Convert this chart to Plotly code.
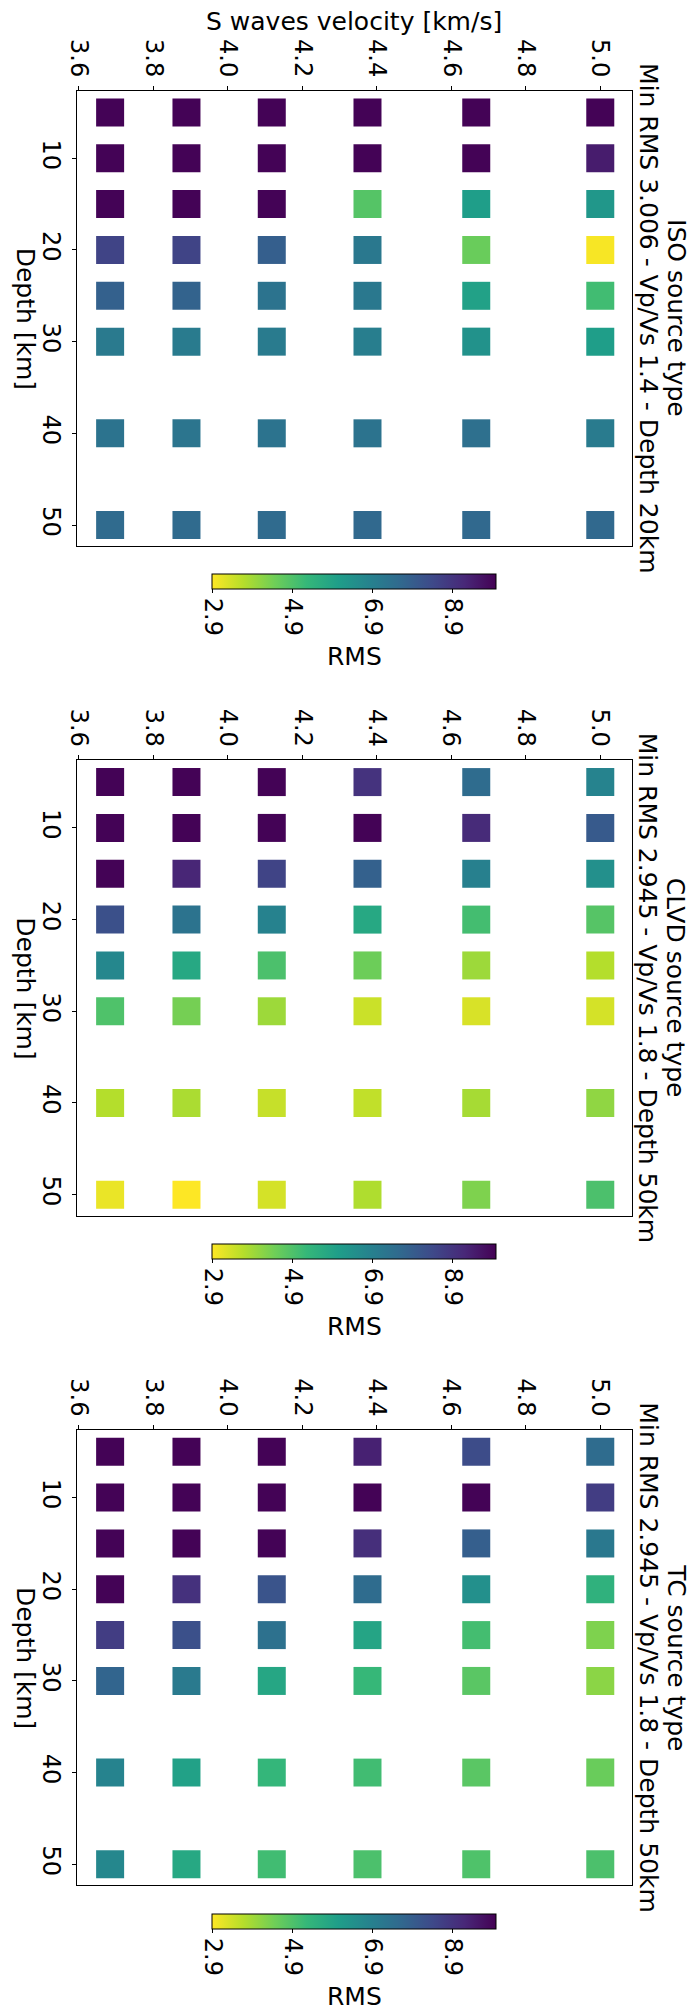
import plotly.graph_objects as go

# S-wave velocity of each column (Vp = 7 km/s, Vp/Vs 1.9 ... 1.4)
velocidades = [3.684, 3.889, 4.118, 4.375, 4.667, 5.0]
profundidades = [5, 10, 15, 20, 25, 30, 40, 50]

# RMS per depth row (rows) and velocity column (cols)
rms_iso = [
    [10.0, 10.0, 10.0, 10.0, 10.0, 10.0],
    [10.0, 10.0, 10.0, 10.0, 10.0, 9.5],
    [10.0, 10.0, 10.0, 4.87, 6.1, 6.3],
    [8.6, 8.6, 7.9, 7.2, 4.6, 3.006],
    [7.85, 7.8, 7.35, 7.2, 6.0, 5.15],
    [7.15, 7.1, 7.1, 7.0, 6.45, 6.1],
    [7.35, 7.3, 7.35, 7.35, 7.45, 7.1],
    [7.6, 7.6, 7.6, 7.65, 7.65, 7.65],
]
rms_clvd = [
    [10.0, 10.0, 10.0, 9.0, 7.55, 6.85],
    [10.0, 10.0, 10.0, 10.0, 9.2, 8.05],
    [10.0, 9.3, 8.6, 7.85, 6.95, 6.5],
    [8.3, 7.35, 6.9, 5.8, 5.1, 4.85],
    [6.75, 5.8, 5.0, 4.55, 4.0, 3.75],
    [4.95, 4.45, 4.0, 3.5, 3.35, 3.4],
    [3.75, 3.85, 3.55, 3.6, 3.9, 4.15],
    [3.15, 2.945, 3.4, 3.8, 4.35, 5.0],
]
rms_tc = [
    [10.0, 10.0, 10.0, 9.4, 8.4, 7.55],
    [10.0, 10.0, 10.0, 10.0, 10.0, 8.75],
    [10.0, 10.0, 10.0, 9.1, 7.9, 7.2],
    [10.0, 9.05, 8.2, 7.55, 6.5, 5.5],
    [8.75, 8.3, 7.4, 5.9, 5.1, 4.35],
    [7.75, 7.15, 5.85, 5.3, 4.8, 4.2],
    [6.85, 6.0, 5.35, 5.15, 4.8, 4.6],
    [6.75, 5.8, 5.15, 5.0, 4.95, 5.0],
]

paineis = [
    ("ISO source type", "Min RMS 3.006 - Vp/Vs 1.4 - Depth 20km", rms_iso),
    ("CLVD source type", "Min RMS 2.945 - Vp/Vs 1.8 - Depth 50km", rms_clvd),
    ("TC source type", "Min RMS 2.945 - Vp/Vs 1.8 - Depth 50km", rms_tc),
]

cb_vals = [2.945, 4.945, 6.945, 8.945]
cb_text = ["2.9", "4.9", "6.9", "8.9"]
RMS_MIN, RMS_MAX = 2.945, 10.05

W, H = 696, 2011
FONT = "DejaVu Sans"
passo = 669.65          # vertical distance between panels (px)
topo0, altura = 90.7, 455.3


def py(p):
    return 1 - p / H


fig = go.Figure()
anotacoes = []

for k, (linha1, linha2, rms) in enumerate(paineis):
    sfx = "" if k == 0 else str(k + 1)
    dy = k * passo
    xs, ys, cs = [], [], []
    for i, d in enumerate(profundidades):
        for j, v in enumerate(velocidades):
            xs.append(v)
            ys.append(d)
            cs.append(rms[i][j])

    fig.add_trace(go.Scatter(
        x=xs, y=ys, mode="markers",
        xaxis="x" + sfx, yaxis="y" + sfx,
        marker=dict(symbol="square", size=28, color=cs,
                    coloraxis="coloraxis" + sfx, line=dict(width=0)),
        showlegend=False,
    ))

    topo = topo0 + dy
    fig.update_layout({
        "xaxis" + sfx: dict(
            domain=[66 / W, 631 / W], anchor="y" + sfx, side="top",
            range=[3.5947, 5.0855], tick0=3.6, dtick=0.2, tickformat=".1f",
            tickangle=90, ticks="outside", ticklen=4, tickcolor="black",
            showline=True, mirror=True, linecolor="black", linewidth=1.2,
            showgrid=False, zeroline=False,
            tickfont=dict(family=FONT, size=24, color="black"),
        ),
        "yaxis" + sfx: dict(
            domain=[py(topo + altura), py(topo)], anchor="x" + sfx,
            range=[52.29, 2.63], tickvals=[10, 20, 30, 40, 50],
            tickangle=90, ticks="outside", ticklen=4, tickcolor="black",
            showline=True, mirror=True, linecolor="black", linewidth=1.2,
            showgrid=False, zeroline=False,
            tickfont=dict(family=FONT, size=24, color="black"),
        ),
        "coloraxis" + sfx: dict(
            colorscale="Viridis_r", cmin=RMS_MIN, cmax=RMS_MAX,
            colorbar=dict(
                orientation="h", x=348.5 / W, xanchor="center",
                y=py(574.3 + dy), yanchor="top",
                len=283.6, lenmode="pixels", thickness=15,
                xpad=0, ypad=0, outlinewidth=1, outlinecolor="black",
                ticks="outside", ticklen=4, tickcolor="black",
                tickvals=cb_vals, ticktext=cb_text, tickangle=90,
                tickfont=dict(family=FONT, size=24, color="black"),
            ),
        ),
    })

    rot = dict(family=FONT, size=25, color="black")
    anotacoes += [
        dict(text="Depth [km]", x=14 / W, y=py(318.4 + dy), textangle=90,
             xanchor="center", yanchor="middle", font=rot),
        dict(text=linha1, x=676 / W, y=py(318.4 + dy), textangle=90,
             xanchor="center", yanchor="middle", font=rot),
        dict(text=linha2, x=647.5 / W, y=py(318.4 + dy), textangle=90,
             xanchor="center", yanchor="middle", font=rot),
        dict(text="RMS", x=348.5 / W, y=py(656.7 + dy),
             xanchor="center", yanchor="middle", font=rot),
    ]

anotacoes.append(dict(text="S waves velocity [km/s]", x=348 / W, y=py(22),
                      xanchor="center", yanchor="middle",
                      font=dict(family=FONT, size=25, color="black")))
for a in anotacoes:
    a.update(xref="paper", yref="paper", showarrow=False)

fig.update_layout(
    width=W, height=H,
    margin=dict(l=0, r=0, t=0, b=0),
    paper_bgcolor="white", plot_bgcolor="white",
    annotations=anotacoes,
    font=dict(family=FONT),
)

# the page body has a default 8px margin; drop it so the figure fills the window
fig.write_html("out.html", config={"displayModeBar": False},
               post_script="document.body.style.margin='0';")
